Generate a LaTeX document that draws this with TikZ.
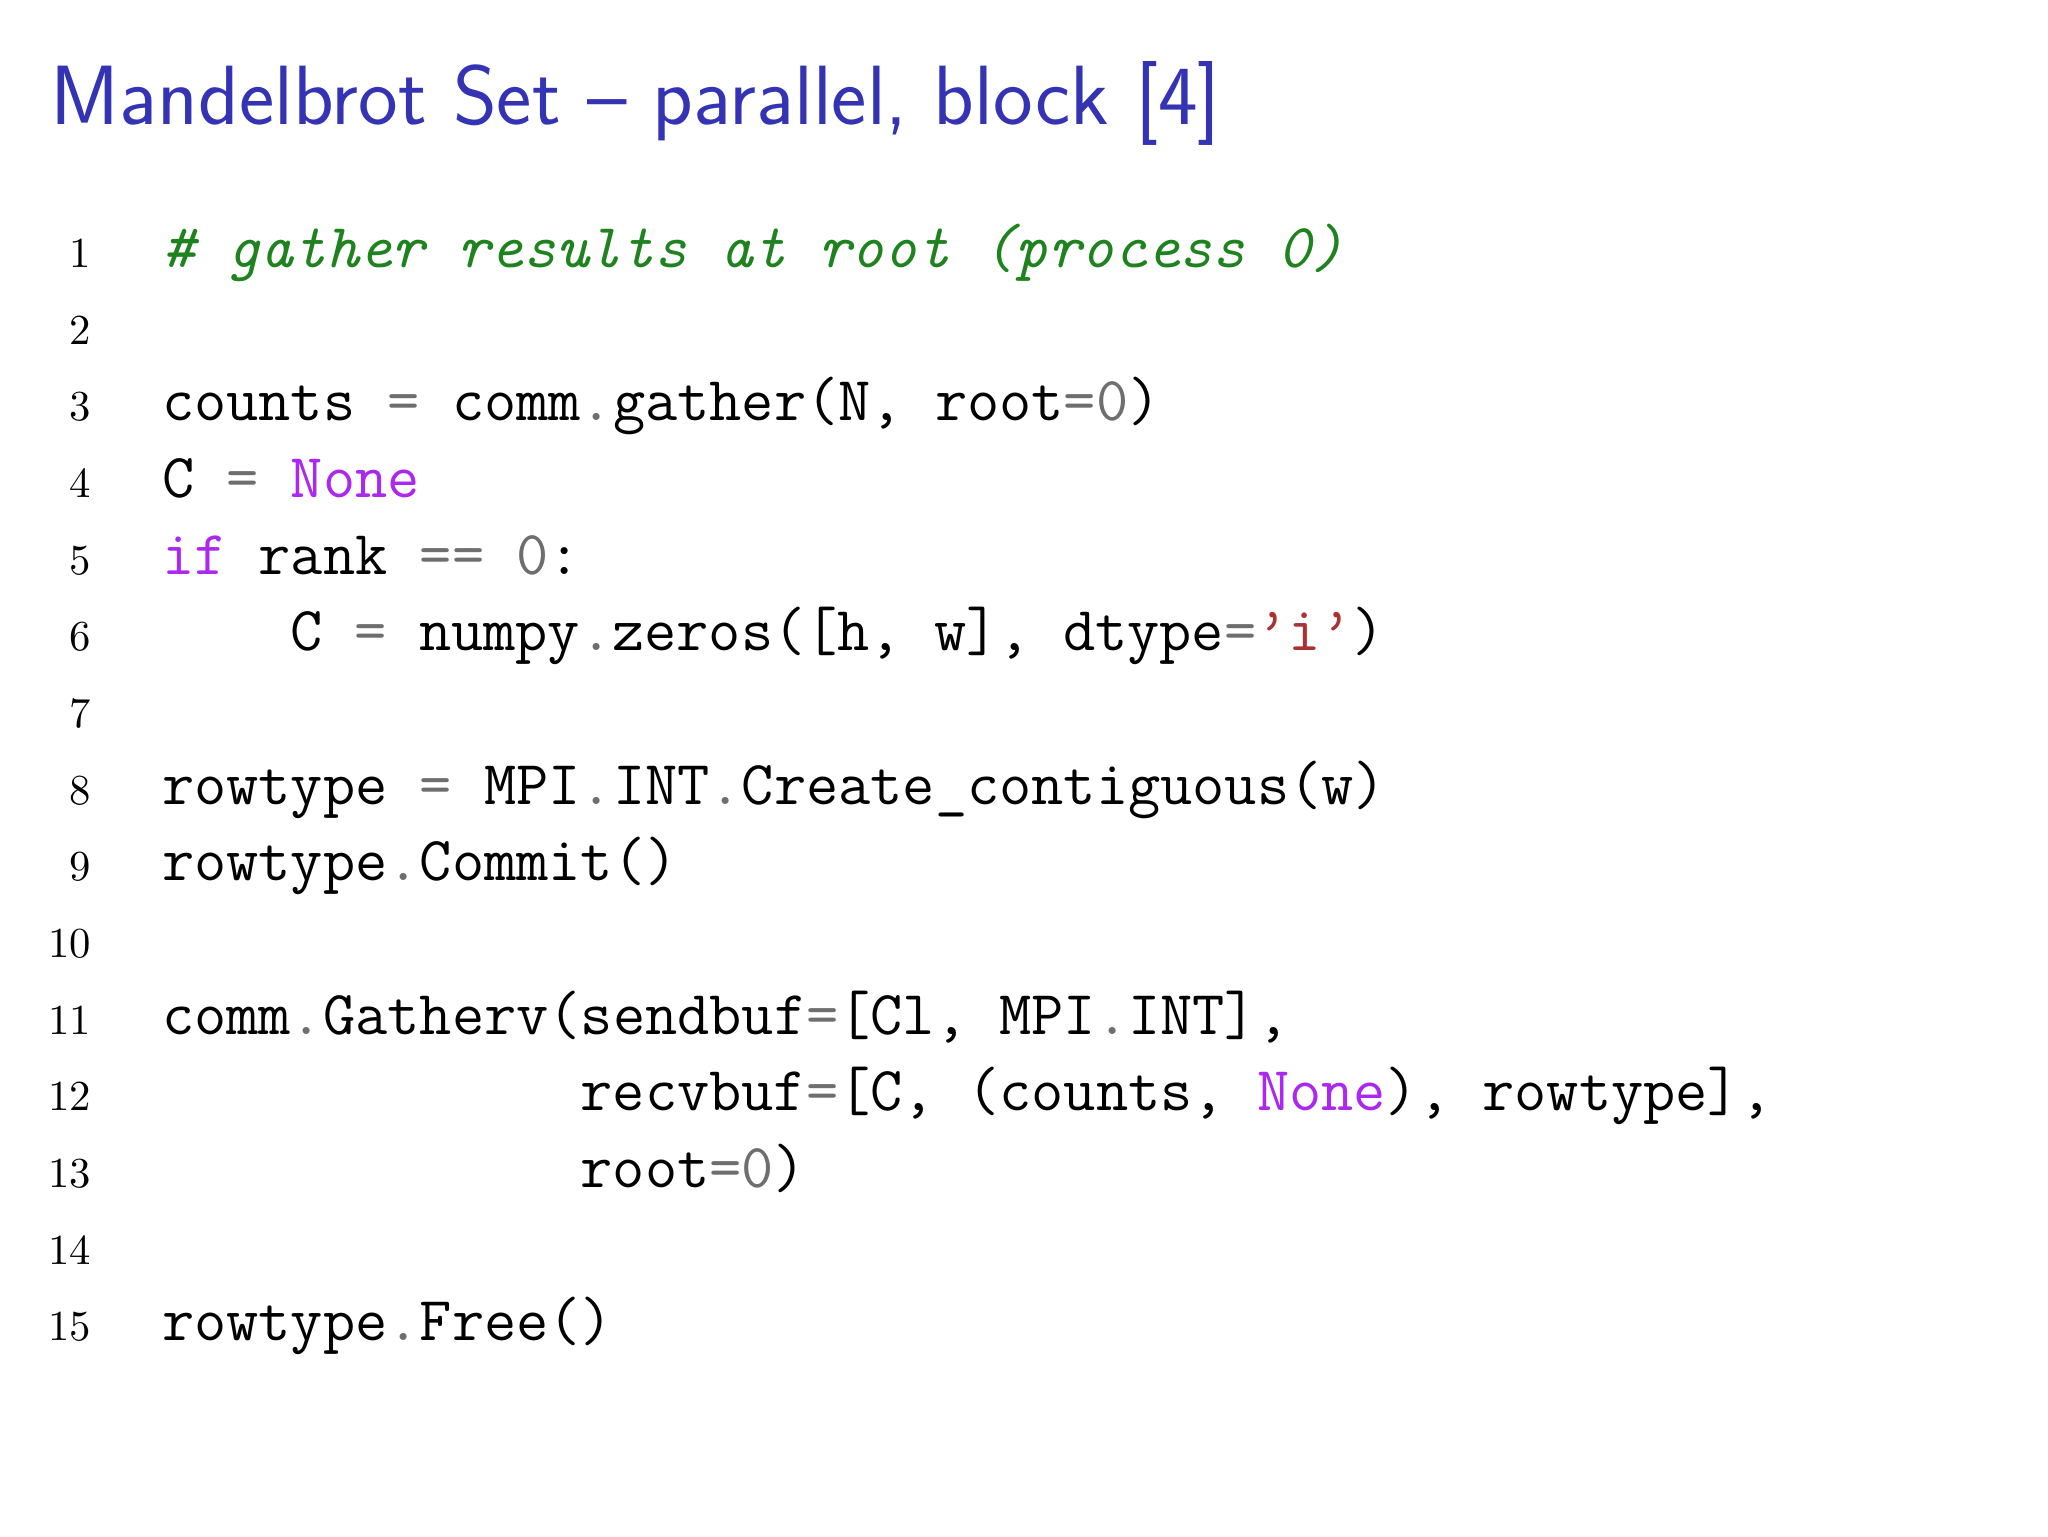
\documentclass[tikz,border=0pt]{standalone}
\usepackage{xcolor}
\definecolor{titleblue}{RGB}{51,51,179}
\definecolor{cmtgreen}{RGB}{30,130,30}
\definecolor{kwpurple}{RGB}{170,40,240}
\definecolor{strred}{RGB}{170,50,50}
\definecolor{opgray}{RGB}{110,110,110}
\newcommand{\kw}[1]{\textcolor{kwpurple}{#1}}
\newcommand{\op}[1]{\textcolor{opgray}{#1}}
\newcommand{\str}[1]{\textcolor{strred}{#1}}
\tikzset{%
  code/.style = { anchor=base west, inner sep=0pt, font=\fontsize{13.9}{15}\ttfamily },
  lineno/.style = { anchor=base east, inner sep=0pt, font=\fontsize{9.5}{11}\rmfamily },
  title/.style = { anchor=base west, inner sep=0pt, text=titleblue, font=\fontsize{18.7}{21}\sffamily }
}
\begin{document}
\begin{tikzpicture}[x=1cm,y=1cm]
  \useasboundingbox (0,0) rectangle (16,12);

  % Title
  \node[title] (title) at (0.39,11.03) {Mandelbrot Set -- parallel, block [4]};

  % Line numbers
  \foreach \n in {1,...,15} {
    \node[lineno] (n\n) at (0.72,{10.51-0.599*\n}) {\n};
  }

  % Code lines
  \edef\xc{1.26}
  \node[code] (l1) at (\xc,10.51-0.599*1) {\textcolor{cmtgreen}{\itshape \# gather results at root (process 0)}};
  \node[code] (l3) at (\xc,10.51-0.599*3) {counts \op{=} comm\op{.}gather(N, root\op{=}\op{0})};
  \node[code] (l4) at (\xc,10.51-0.599*4) {C \op{=} \kw{None}};
  \node[code] (l5) at (\xc,10.51-0.599*5) {\kw{if} rank \op{==} \op{0}:};
  \node[code] (l6) at (\xc+1.0,10.51-0.599*6) {C \op{=} numpy\op{.}zeros([h, w], dtype\op{=}\str{\textquoteright i\textquoteright})};
  \node[code] (l8) at (\xc,10.51-0.599*8) {rowtype \op{=} MPI\op{.}INT\op{.}Create\_contiguous(w)};
  \node[code] (l9) at (\xc,10.51-0.599*9) {rowtype\op{.}Commit()};
  \node[code] (l11) at (\xc,10.51-0.599*11) {comm\op{.}Gatherv(sendbuf\op{=}[Cl, MPI\op{.}INT],};
  \node[code] (l12) at (\xc+3.27,10.51-0.599*12) {recvbuf\op{=}[C, (counts, \kw{None}), rowtype],};
  \node[code] (l13) at (\xc+3.27,10.51-0.599*13) {root\op{=}\op{0})};
  \node[code] (l15) at (\xc,10.51-0.599*15) {rowtype\op{.}Free()};
\end{tikzpicture}
\end{document}
